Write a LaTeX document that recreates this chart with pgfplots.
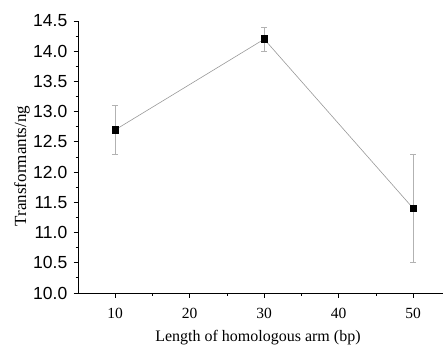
\documentclass[border=0pt]{standalone}
\usepackage{pgfplots}
\pgfplotsset{compat=1.18}
\usepackage{fontspec}
\setmainfont{Liberation Serif}
\newfontfamily\arialf{Liberation Sans}
\begin{document}
\begin{tikzpicture}
\begin{axis}[
  scale only axis,
  width=365pt, height=272pt,
  xmin=5, xmax=54, ymin=10, ymax=14.5,
  axis x line=bottom, axis y line=left,
  axis line style={-, line width=1pt},
  every tick/.style={black, line width=0.9pt},
  tick align=outside,
  major tick length=4.5pt, minor tick length=2.5pt,
  xtick={10,20,30,40,50},
  ytick={10,10.5,...,14.5},
  minor x tick num=1, minor y tick num=1,
  /pgf/number format/.cd, fixed, fixed zerofill, precision=1, assume math mode=true,
  /pgfplots/.cd,
  xticklabel={\pgfmathprintnumber[fixed,precision=0]{\tick}},
  xticklabel style={font=\fontsize{15.5}{15.5}\selectfont, anchor=north, inner sep=0pt, yshift=-10pt},
  yticklabel style={font=\arialf\fontsize{17.5}{17.5}\selectfont, anchor=east, inner sep=0pt, xshift=-6pt},
  xlabel={Length of homologous arm (bp)},
  ylabel={Transformants/ng},
  xlabel style={font=\fontsize{16}{16}\selectfont, at={(axis description cs:0.493,-0.180)}, anchor=base, inner sep=0pt},
  ylabel style={font=\fontsize{17}{17}\selectfont, at={(axis description cs:-0.1534,0.467)}, anchor=center, inner sep=0pt},
  clip=false,
]
\addplot[color=gray!80, line width=0.6pt, mark=square*, mark size=3.4pt,
  mark options={black, fill=black},
  error bars/.cd, y dir=both, y explicit,
  error bar style={gray!60, line width=0.8pt},
  error mark options={rotate=90, mark size=3pt, gray!60, line width=0.8pt}]
  coordinates {
  (10,12.7) +- (0,0.4)
  (30,14.2) +- (0,0.2)
  (50,11.4) +- (0,0.9)
  };
\end{axis}
\pgfresetboundingbox
\path[use as bounding box] (-78pt,-53pt) rectangle (365pt,293pt);
\end{tikzpicture}
\end{document}
